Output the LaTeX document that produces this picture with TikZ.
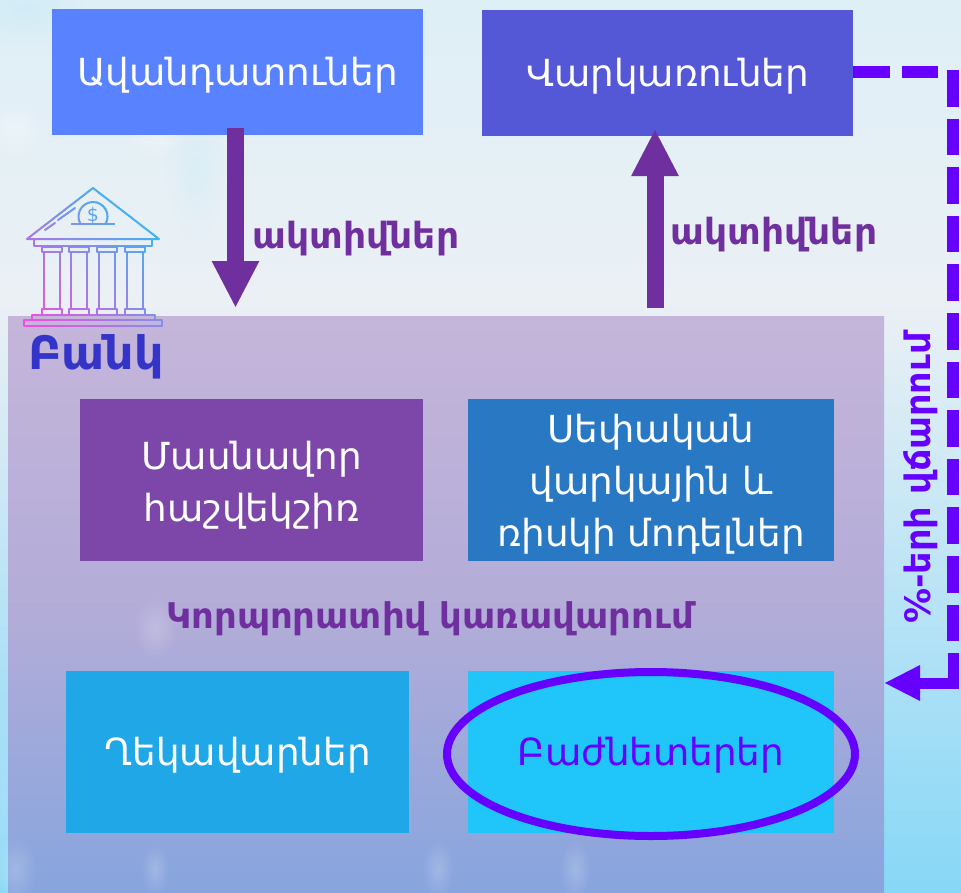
\documentclass[tikz,border=0pt]{standalone}
\usepackage{fontspec}
\setmainfont{DejaVu Sans}
\usetikzlibrary{arrows.meta,shapes.geometric,fadings}
\definecolor{arrowpurple}{HTML}{6F2F9F}
\definecolor{payviolet}{HTML}{6600FF}
\definecolor{bankblue}{HTML}{3434C8}
\definecolor{bgtop}{RGB}{222,239,246}
\definecolor{bgmid}{RGB}{235,240,245}
\definecolor{bgbot}{RGB}{135,215,246}
\definecolor{paneltop}{RGB}{197,181,218}
\definecolor{panelmid}{RGB}{178,172,216}
\definecolor{panelbot}{RGB}{135,165,222}
\definecolor{icblue}{RGB}{65,180,240}
\definecolor{icpink}{RGB}{245,75,225}
\tikzset{
  boxbase/.style={inner sep=0pt},
  boxtext/.style={align=center,text=white,font=\fontsize{37.3}{52}\selectfont,inner sep=0pt,yshift=-3pt},
  block/.style={line width=17pt,draw=arrowpurple,-{Triangle[length=47pt,width=44pt]}},
  biglabel/.style={font=\fontsize{36}{40}\selectfont\bfseries,text=arrowpurple,inner sep=0pt},
  icon/.style={line width=2pt,line join=round},
  soft/.style={fill=white,path fading=fuzzy,opacity=#1}
}
\tikzfading[name=fuzzy,inner color=transparent!0,outer color=transparent!100]
\newcommand{\iconlines}{%
  \draw[icon] (27,239) -- (93,188) -- (159,239) -- cycle;
  \draw[icon] (34,239) rectangle (152,246);
  \draw[icon] (71,224) -- (115,224);
  \draw[icon] (80.6,224) arc[start angle=149,end angle=391,radius=14.5];
  \draw[icon,line cap=round] (45,230) -- (55,223) (58,220) -- (75,208);
  \foreach \cx in {51.7,79,107,135}{
    \draw[icon] (\cx-8,252) -- (\cx-8,309) (\cx+8,252) -- (\cx+8,309);
    \draw[icon] (\cx-10,247) rectangle (\cx+10,252);
    \draw[icon] (\cx-10,309) rectangle (\cx+10,315);
  }
  \draw[icon] (32,315) rectangle (155,320);
  \draw[icon] (24,320) rectangle (162,326);
}
\begin{document}
\begin{tikzpicture}[x=1pt,y=-1pt]
\useasboundingbox (0,0) rectangle (961,892);
% background
\shade[top color=bgtop,bottom color=bgmid] (0,0) rectangle (961,300);
\shade[top color=bgmid,bottom color=bgbot] (0,300) rectangle (961,892);
\fill[soft=.3,fill=cyan!30] (25,10) ellipse [x radius=60,y radius=35];
\fill[soft=.2,fill=cyan!30] (195,170) ellipse [x radius=30,y radius=70];
\fill[soft=.35] (15,130) ellipse [x radius=30,y radius=30];
\fill[soft=.35] (155,130) ellipse [x radius=30,y radius=30];
\fill[soft=.5,fill=cyan!30] (4,800) ellipse [x radius=18,y radius=120];
% bank panel
\shade[top color=paneltop,bottom color=panelmid] (8,316) rectangle (884,620);
\shade[top color=panelmid,bottom color=panelbot] (8,620) rectangle (884,892);
\fill[soft=.2] (15,870) ellipse [x radius=22,y radius=34];
\fill[soft=.2] (155,870) ellipse [x radius=14,y radius=26];
\fill[soft=.2] (438,870) ellipse [x radius=16,y radius=30];
\fill[soft=.2] (575,870) ellipse [x radius=16,y radius=30];
\fill[soft=.2] (155,628) ellipse [x radius=22,y radius=32];
% boxes
\node[boxbase,minimum width=371pt,minimum height=126pt,fill={rgb,255:red,88;green,130;blue,255},label={[boxtext]center:Ավանդատուներ}] (avand) at (237.5,72) {};
\node[boxbase,minimum width=371pt,minimum height=126pt,fill={rgb,255:red,85;green,88;blue,214},label={[boxtext]center:Վարկառուներ}] (vark) at (667.5,73) {};
\node[boxbase,minimum width=343pt,minimum height=162pt,fill={rgb,255:red,125;green,71;blue,169},label={[boxtext,yshift=-2pt]center:{Մասնավոր\\հաշվեկշիռ}}] (masn) at (251.5,480) {};
\node[boxbase,minimum width=366pt,minimum height=162pt,fill={rgb,255:red,40;green,120;blue,196},label={[boxtext,yshift=-1pt]center:{Սեփական\\վարկային և\\ռիսկի մոդելներ}}] (sep) at (651,480) {};
\node[boxbase,minimum width=343pt,minimum height=162pt,fill={rgb,255:red,32;green,167;blue,232},label={[boxtext]center:Ղեկավարներ}] (ghek) at (237.5,752) {};
\node[boxbase,minimum width=366pt,minimum height=162pt,fill={rgb,255:red,32;green,198;blue,250},label={[boxtext,text=payviolet]center:Բաժնետերեր}] (bazhn) at (651,752) {};
\node[draw=payviolet,line width=8pt,ellipse,minimum width=408pt,minimum height=164pt,inner sep=0pt] (oval) at (651,754) {};
% coordinates for free ends
\coordinate (panelA) at (235.5,308);
\coordinate (panelB) at (655,308);
\coordinate (vtop) at (655,129);
\coordinate (corner0) at (938,72);
\coordinate (corner1) at (953,70);
\coordinate (corner1b) at (953,642);
\coordinate (corner2a) at (953,653);
\coordinate (corner2) at (953,683);
\coordinate (payend) at (884,683);
% block arrows
\draw[block] (235.5,128) -- (panelA);
\draw[block] (panelB) -- (vtop);
% dashed payment path
\draw[draw=payviolet,line width=12pt,dash pattern=on 37pt off 12pt] (vark.east |- corner0) -- (corner0);
\draw[draw=payviolet,line width=12pt,dash pattern=on 36.6pt off 12pt] (corner1) -- (corner1b);
\draw[draw=payviolet,line width=11pt,line join=miter,-{Triangle[length=36pt,width=33pt]}] (corner2a) -- (corner2) -- (payend);
% labels
\node[biglabel] (lab1) at (356,239) {ակտիվներ};
\node[biglabel] (lab2) at (774,235) {ակտիվներ};
\node[font=\fontsize{35.4}{40}\selectfont\bfseries,text=arrowpurple,inner sep=0pt] (corp) at (430,619) {Կորպորատիվ կառավարում};
\node[font=\fontsize{35}{40}\selectfont\bfseries,text=payviolet,rotate=90,inner sep=0pt] (pay) at (921,478) {\%-երի վճարում};
\node[font=\fontsize{46}{50}\selectfont\bfseries,text=bankblue,inner sep=0pt] (bank) at (96,357) {Բանկ};
% bank icon: diagonal pink-to-blue gradient made of clipped colour bands
\foreach \k in {0,...,27}{
  \pgfmathsetmacro{\uo}{-305+10*\k}
  \pgfmathsetmacro{\uu}{-305+10*\k+10.5}
  \pgfmathsetmacro{\tt}{min(100,\k*100/22)}
  \colorlet{iccur}{icblue!\tt!icpink}
  \begin{scope}[draw=iccur]
    \clip (0,-\uo) -- (400,400-\uo) -- (400,400-\uu) -- (0,-\uu) -- cycle;
    \iconlines
  \end{scope}
}
\node[font=\fontsize{19}{19}\selectfont,text=icblue!85!icpink,inner sep=0pt] (dollar) at (93,216) {\$};
\end{tikzpicture}
\end{document}
